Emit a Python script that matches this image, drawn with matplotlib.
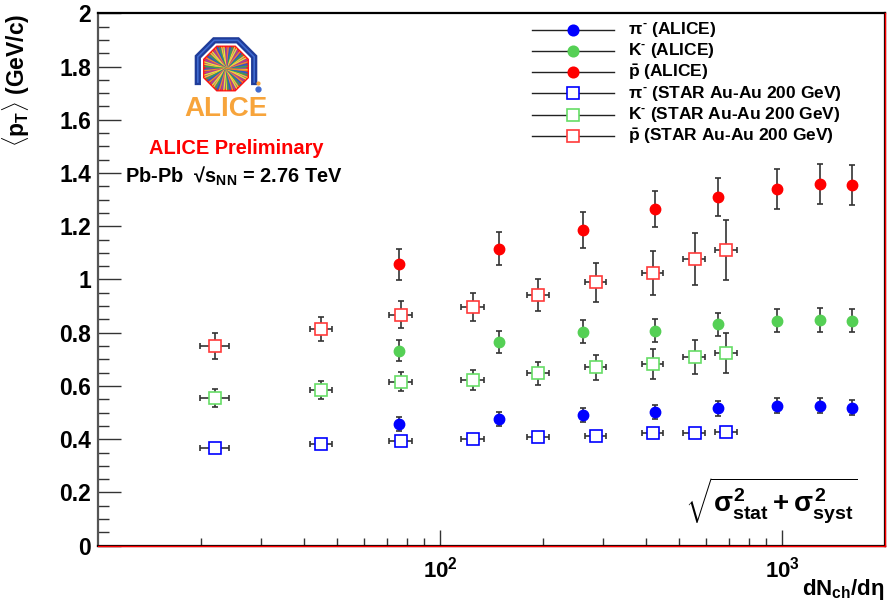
import numpy as np
import matplotlib
matplotlib.use('Agg')
import matplotlib.pyplot as plt
from matplotlib.ticker import FixedLocator, FuncFormatter, MultipleLocator, NullFormatter
from matplotlib.patches import Polygon

plt.rcParams['font.family'] = ['Liberation Sans', 'DejaVu Sans']
plt.rcParams['font.weight'] = 'bold'
plt.rcParams['axes.labelweight'] = 'bold'
plt.rcParams['mathtext.fontset'] = 'custom'
plt.rcParams['mathtext.rm'] = 'Liberation Sans:bold'
plt.rcParams['mathtext.it'] = 'Liberation Sans:bold'
plt.rcParams['mathtext.bf'] = 'Liberation Sans:bold'
plt.rcParams['mathtext.sf'] = 'Liberation Sans:bold'

# ALICE Pb-Pb 2.76 TeV
alice_dndeta = [76, 149, 261, 426, 649, 966, 1294, 1601]
pi_alice = [0.458, 0.475, 0.492, 0.503, 0.516, 0.526, 0.526, 0.518]
pi_alice_err = [0.026, 0.027, 0.027, 0.027, 0.028, 0.028, 0.028, 0.028]
k_alice = [0.733, 0.766, 0.804, 0.808, 0.832, 0.845, 0.848, 0.845]
k_alice_err = [0.041, 0.042, 0.043, 0.043, 0.044, 0.044, 0.044, 0.044]
p_alice = [1.057, 1.116, 1.186, 1.264, 1.309, 1.339, 1.358, 1.355]
p_alice_err = [0.058, 0.061, 0.066, 0.068, 0.071, 0.075, 0.075, 0.075]

# STAR Au-Au 200 GeV
star_dndeta = [22, 45, 77, 125, 194, 285, 419, 555, 686]
star_dndeta_err = [2.1, 3.3, 6.0, 9.5, 14, 20, 30, 40, 50]
pi_star = [0.366, 0.381, 0.392, 0.401, 0.408, 0.411, 0.422, 0.422, 0.426]
pi_star_err = [0.012, 0.012, 0.013, 0.013, 0.014, 0.014, 0.015, 0.016, 0.017]
k_star = [0.556, 0.586, 0.616, 0.622, 0.648, 0.670, 0.683, 0.709, 0.723]
k_star_err = [0.034, 0.034, 0.035, 0.037, 0.043, 0.046, 0.056, 0.063, 0.075]
p_star = [0.750, 0.815, 0.868, 0.898, 0.942, 0.989, 1.023, 1.076, 1.110]
p_star_err = [0.050, 0.046, 0.051, 0.053, 0.061, 0.072, 0.083, 0.098, 0.113]

blue, green, red = '#0000ff', '#55d055', '#ff0000'
star_green, star_red = '#66dd66', '#ff3a3a'

alice_labels = [r'$\pi^{\text{-}}$ (ALICE)', r'K$^{\text{-}}$ (ALICE)', r'$\bar{p}$ (ALICE)']
star_labels = [r'$\pi^{\text{-}}$ (STAR Au-Au 200 GeV)', r'K$^{\text{-}}$ (STAR Au-Au 200 GeV)',
               r'$\bar{p}$ (STAR Au-Au 200 GeV)']

W, H = 896, 603
fig = plt.figure(figsize=(W / 100, H / 100), dpi=100)
L, R, T, B = 98, 885, 13.3, 545.7
ax = fig.add_axes([L / W, 1 - B / H, (R - L) / W, (B - T) / H])


def ax_xy(px, py):
    return (px - L) / (R - L), (B - py) / (B - T)


ebkw = dict(ecolor='#333333', elinewidth=1.2, capsize=2.5, capthick=1.2, linestyle='none')

for y, e, c in [(pi_alice, pi_alice_err, blue), (k_alice, k_alice_err, green), (p_alice, p_alice_err, red)]:
    ax.errorbar(alice_dndeta, y, yerr=e, marker='o', ms=7.5, mfc=c, mec=c, **ebkw)

for y, e, c in [(pi_star, pi_star_err, blue), (k_star, k_star_err, star_green), (p_star, p_star_err, star_red)]:
    ax.errorbar(star_dndeta, y, xerr=star_dndeta_err, yerr=e, marker='s', ms=9, mfc='white', mec=c,
                mew=1.2, **ebkw)

ax.set_xscale('log')
ax.set_xlim(10, 2000)
ax.set_ylim(0, 2)
ax.xaxis.set_major_locator(FixedLocator([100, 1000]))
ax.xaxis.set_minor_locator(FixedLocator([20, 30, 40, 50, 60, 70, 80, 90, 200, 300, 400, 500, 600, 700, 800, 900]))
ax.xaxis.set_minor_formatter(NullFormatter())
ax.xaxis.set_major_formatter(FuncFormatter(lambda v, p: r'$10^{%d}$' % round(np.log10(v))))
ax.yaxis.set_major_locator(MultipleLocator(0.2))
ax.yaxis.set_minor_locator(MultipleLocator(0.05))
ax.yaxis.set_major_formatter(FuncFormatter(lambda v, p: '%g' % round(v, 2)))
ax.tick_params(which='both', direction='in', top=False, right=False, color='#333333')
ax.tick_params(axis='y', which='major', length=16.5, width=1, labelsize=16.5, pad=5)
ax.tick_params(axis='y', which='minor', length=8, width=1)
ax.tick_params(axis='x', which='major', length=11.5, width=1, labelsize=16, pad=8)
ax.tick_params(axis='x', which='minor', length=6, width=1)

for s in ax.spines.values():
    s.set_color('black')
    s.set_linewidth(1.6)
ax.spines['left'].set_color('#555555')
ax.axhline(0, color='red', lw=1.0, clip_on=False, zorder=5)
ax.axvline(2000, color='red', lw=1.0, clip_on=False, zorder=5)

ax.set_ylabel(r'$\langle p_{T}\rangle$ (GeV/c)', fontsize=16.5, fontweight='bold', loc='top')
ax.yaxis.set_label_coords(ax_xy(32, 0)[0], 1.0)
ax.set_xlabel(r'dN$_{ch}$/d$\eta$', fontsize=16, fontweight='bold', loc='right')
ax.xaxis.set_label_coords(1.0, ax_xy(0, 577)[1])

# legend drawn by hand, ROOT style
rows = [(alice_labels[0], 'o', blue, blue), (alice_labels[1], 'o', green, green),
        (alice_labels[2], 'o', red, red), (star_labels[0], 's', 'white', blue),
        (star_labels[1], 's', 'white', star_green), (star_labels[2], 's', 'white', star_red)]
for i, (lab, m, fc, ec) in enumerate(rows):
    py = 29.5 + 21.3 * i
    x0, y0 = ax_xy(532, py)
    x1, _ = ax_xy(614, py)
    xm, _ = ax_xy(573, py)
    ax.plot([x0, x1], [y0, y0], color='#222222', lw=1, transform=ax.transAxes, clip_on=False)
    ax.plot([xm], [y0], marker=m, ms=7.5 if m == 'o' else 9, mfc=fc, mec=ec, mew=1.2,
            transform=ax.transAxes, clip_on=False)
    ax.text(ax_xy(628, py)[0], y0, lab, fontsize=12.5, ha='left', va='center', transform=ax.transAxes)

ax.text(*ax_xy(236, 154), 'ALICE Preliminary', color='red', fontsize=14.4, ha='center',
        va='baseline', transform=ax.transAxes)
ax.text(*ax_xy(125, 183), r'Pb-Pb  √$s_{NN}$ = 2.76 TeV', fontsize=14.4, ha='left',
        va='baseline', transform=ax.transAxes)
ax.text(*ax_xy(771, 501), r'$\sqrt{\sigma^{2}_{stat} + \sigma^{2}_{syst}}$', fontsize=20,
        ha='center', va='center', transform=ax.transAxes)

# ALICE logo
lg = fig.add_axes([183 / W, 1 - 122 / H, 89 / W, 87 / H])
lg.set_xlim(183, 272)
lg.set_ylim(122, 35)
lg.axis('off')
cx, cy = 226, 68.5
ang = np.deg2rad(22.5 + 45 * np.arange(8))
octo = Polygon(np.c_[cx + 23.5 * np.cos(ang), cy - 23.5 * np.sin(ang)], closed=True,
               fc='#7a4a9a', ec='#ff1010', lw=1.8, zorder=2)
lg.add_patch(octo)
ray_cols = ['#f7c53a', '#3aa64a', '#2a5fc0', '#f08a2a', '#c03a8a', '#e8e040']
for j, a in enumerate(np.linspace(0, 2 * np.pi, 64, endpoint=False)):
    ln, = lg.plot([cx, cx + 26 * np.cos(a)], [cy, cy - 26 * np.sin(a)], color=ray_cols[j % 6],
                  lw=1.0, zorder=3)
    ln.set_clip_path(octo)
arch_a = np.deg2rad([157.5, 112.5, 67.5, 22.5])
ax_pts = cx + 30.5 * np.cos(arch_a)
ay_pts = cy - 30.5 * np.sin(arch_a)
arch_x = [ax_pts[0]] + list(ax_pts) + [ax_pts[-1]]
arch_y = [82] + list(ay_pts) + [82]
lg.plot(arch_x, arch_y, color='#1f3c99', lw=4.5, solid_joinstyle='miter', zorder=1)
lg.plot(arch_x, arch_y, color='#3f6ad0', lw=1.2, solid_joinstyle='miter', zorder=1)
lg.plot([258], [89], marker='o', ms=3.5, color='#3f6ad0')
lg.plot([258], [83], marker='o', ms=2, color='#f7a43b')
lg.text(226, 116, 'ALICE', ha='center', va='baseline', fontsize=20, color='#f7a43b', fontweight='bold')

fig.savefig('out.png', dpi=100)
